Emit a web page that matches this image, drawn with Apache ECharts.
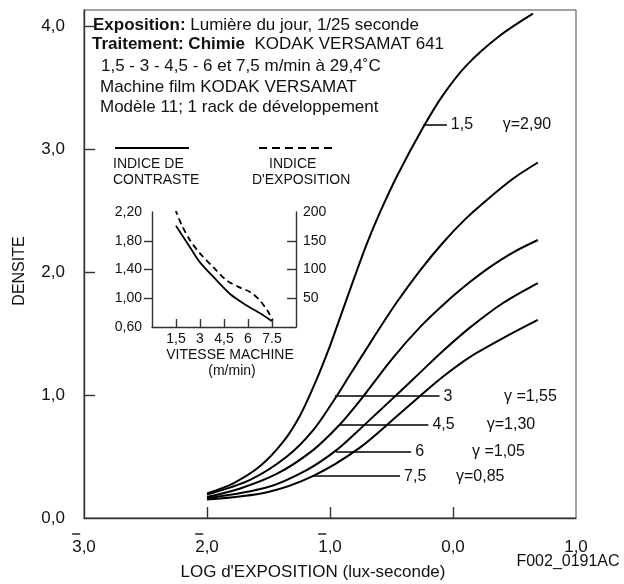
<!DOCTYPE html>
<html>
<head>
<meta charset="utf-8">
<script src="https://cdn.jsdelivr.net/npm/echarts@6/dist/echarts.min.js"></script>
<style>
html, body { margin: 0; padding: 0; background: #fff; }
#chart { width: 624px; height: 584px; }
</style>
</head>
<body>
<div id="chart"></div>
<script>
// Courbes caractéristiques : densité en fonction du log d'exposition,
// une courbe par vitesse machine (m/min)
var logE15 = [-2.00, -1.79, -1.57, -1.38, -1.24, -1.12, -1.00, -0.90, -0.80, -0.70, -0.60, -0.45, -0.24, -0.08, 0.11, 0.38, 0.65];
var dens15 = [0.20, 0.28, 0.42, 0.62, 0.84, 1.10, 1.40, 1.68, 1.96, 2.23, 2.47, 2.79, 3.18, 3.44, 3.68, 3.92, 4.10];
var logE3 = [-2.00, -1.65, -1.35, -1.14, -0.96, -0.84, -0.65, -0.46, -0.27, -0.08, 0.10, 0.28, 0.49, 0.69];
var dens3 = [0.19, 0.31, 0.50, 0.71, 0.97, 1.16, 1.46, 1.75, 2.01, 2.24, 2.43, 2.59, 2.76, 2.89];
var logE45 = [-2.00, -1.73, -1.43, -1.14, -0.92, -0.76, -0.49, -0.27, -0.05, 0.14, 0.30, 0.49, 0.69];
var dens45 = [0.17, 0.24, 0.36, 0.55, 0.76, 0.95, 1.30, 1.55, 1.76, 1.92, 2.04, 2.16, 2.26];
var logE6 = [-2.00, -1.51, -1.19, -0.95, -0.76, -0.61, -0.46, -0.27, -0.08, 0.14, 0.41, 0.69];
var dens6 = [0.16, 0.25, 0.39, 0.55, 0.72, 0.86, 1.00, 1.18, 1.36, 1.55, 1.75, 1.91];
var logE75 = [-2.00, -1.51, -1.14, -0.76, -0.42, -0.27, -0.08, 0.14, 0.44, 0.69];
var dens75 = [0.15, 0.21, 0.34, 0.57, 0.86, 0.99, 1.15, 1.31, 1.48, 1.61];

var speeds = ['1,5', '3', '4,5', '6', '7,5'];
var gammas = ['γ=2,90', 'γ =1,55', 'γ=1,30', 'γ =1,05', 'γ=0,85'];
// traits de repère (densité, début / fin en log E) et position du gamma
var leaderY = [3.20, 0.99, 0.76, 0.54, 0.34];
var leaderX0 = [-0.24, -0.96, -0.92, -0.95, -1.14];
var leaderX1 = [-0.05, -0.11, -0.20, -0.34, -0.43];
var gammaX = [0.40, 0.41, 0.27, 0.15, 0.02];

var xTicksMain = [-3, -2, -1, 0, 1];
var yTicksMain = [0, 1, 2, 3, 4];

// Encart : indices en fonction de la vitesse machine
var vitesseC = [1.5, 2.375, 3, 4.04, 4.875, 5.92, 6.75, 7.5];
var contraste = [2.01, 1.71, 1.50, 1.25, 1.06, 0.90, 0.79, 0.68];
var vitesseE = [1.45, 1.86, 2.375, 3, 3.83, 4.67, 5.5, 6.125, 6.75, 7.27, 7.54];
var exposition = [205, 177, 151, 128, 104, 81, 68.5, 61, 46, 26, 12];
var vitesseTicks = [1.5, 3, 4.5, 6, 7.5];
var vitesseLabels = ['1,5', '3', '4,5', '6', '7.5'];
var contrasteTicks = [0.6, 1.0, 1.4, 1.8, 2.2];
var expoTicks = [50, 100, 150, 200];

var FONT = '"Liberation Sans", Arial, Helvetica, sans-serif';
var INK = '#111';
var AXIS = '#333';

function zip(a, b) {
	var out = [];
	for (var i = 0; i < a.length; i++) out.push([a[i], b[i]]);
	return out;
}

function txt(x, y, s, size, align, extra) {
	var st = {
		text: s, x: 0, y: 0, fill: INK, font: size + 'px ' + FONT,
		align: align || 'left', verticalAlign: 'middle'
	};
	if (extra) for (var k in extra) st[k] = extra[k];
	return { type: 'text', x: x, y: y, style: st, silent: true };
}

var chart = echarts.init(document.getElementById('chart'), null, { renderer: 'canvas' });

var curves = [[logE15, dens15], [logE3, dens3], [logE45, dens45], [logE6, dens6], [logE75, dens75]];
var series = curves.map(function (c, i) {
	return {
		type: 'line', xAxisIndex: 0, yAxisIndex: 0,
		data: zip(c[0], c[1]),
		showSymbol: false, smooth: 0.3,
		lineStyle: { color: '#000', width: 2 },
		silent: true,
		markLine: {
			silent: true, symbol: ['none', 'none'], animation: false,
			lineStyle: { color: '#000', width: 1.5, type: 'solid' },
			label: {
				show: true, position: 'end', distance: 4, formatter: speeds[i],
				fontSize: 16, fontFamily: FONT, color: INK
			},
			data: [[{ coord: [leaderX0[i], leaderY[i]] }, { coord: [leaderX1[i], leaderY[i]] }]]
		},
		markPoint: {
			silent: true, symbol: 'circle', symbolSize: 1, animation: false,
			itemStyle: { color: 'rgba(0,0,0,0)' },
			label: {
				show: true, position: 'right', distance: 0, formatter: gammas[i],
				fontSize: 16, fontFamily: FONT, color: INK
			},
			data: [{ coord: [gammaX[i], leaderY[i]] }]
		}
	};
});

series.push({
	type: 'line', xAxisIndex: 1, yAxisIndex: 1,
	data: zip(vitesseC, contraste),
	showSymbol: false, smooth: 0.3, silent: true,
	lineStyle: { color: '#000', width: 1.8 }
});
series.push({
	type: 'line', xAxisIndex: 1, yAxisIndex: 2,
	data: zip(vitesseE, exposition),
	showSymbol: false, smooth: 0.3, silent: true,
	lineStyle: { color: '#000', width: 1.8, type: [6, 4] }
});

var option = {
	animation: false,
	backgroundColor: '#fff',
	textStyle: { fontFamily: FONT },
	grid: [
		{ left: 84, top: 10, width: 492, height: 508, show: true, borderColor: '#444', borderWidth: 1 },
		{ left: 152, top: 212, width: 144, height: 115 }
	],
	xAxis: [
		{
			gridIndex: 0, type: 'value', min: -3, max: 1, interval: 1,
			splitLine: { show: false },
			axisLine: { onZero: false, lineStyle: { color: AXIS, width: 1.4 } },
			axisTick: { inside: true, length: 11, customValues: [-2, -1, 0], lineStyle: { color: AXIS, width: 1.4 } },
			axisLabel: {
				customValues: xTicksMain, margin: 12, color: INK,
				formatter: function (v) {
					var n = Math.abs(Math.round(v)) + ',0';
					return (v < 0 ? '{bar| }' : '{sp| }') + '\n{n|' + n + '}';
				},
				rich: {
					bar: { width: 8, height: 1.5, lineHeight: 8, fontSize: 4, backgroundColor: '#222', align: 'left' },
					sp: { lineHeight: 8, fontSize: 4 },
					n: { fontSize: 17, lineHeight: 18, fontFamily: FONT, color: INK }
				}
			}
		},
		{
			gridIndex: 1, type: 'value', min: 0, max: 9, interval: 1.5,
			splitLine: { show: false },
			axisLine: { onZero: false, lineStyle: { color: AXIS, width: 1.4 } },
			axisTick: { inside: true, length: 8, customValues: vitesseTicks, lineStyle: { color: AXIS, width: 1.4 } },
			axisLabel: {
				customValues: vitesseTicks, margin: 5, fontSize: 14, color: INK,
				formatter: function (v) {
					var i = vitesseTicks.indexOf(v);
					return i < 0 ? '' : vitesseLabels[i];
				}
			}
		}
	],
	yAxis: [
		{
			gridIndex: 0, type: 'value', min: 0, max: 4.13, interval: 1,
			splitLine: { show: false },
			axisLine: { show: true, onZero: false, lineStyle: { color: AXIS, width: 1.4 } },
			axisTick: { show: true, inside: true, length: 11, customValues: [1, 2, 3, 4], lineStyle: { color: AXIS, width: 1.4 } },
			axisLabel: {
				customValues: yTicksMain, margin: 19, fontSize: 17, color: INK,
				formatter: function (v) { return v.toFixed(1).replace('.', ','); }
			}
		},
		{
			gridIndex: 1, type: 'value', position: 'left', min: 0.6, max: 2.2, interval: 0.4,
			splitLine: { show: false },
			axisLine: { show: true, onZero: false, lineStyle: { color: AXIS, width: 1.4 } },
			axisTick: { show: true, length: 8, customValues: [1.0, 1.4, 1.8], lineStyle: { color: AXIS, width: 1.4 } },
			axisLabel: {
				customValues: contrasteTicks, margin: 10, fontSize: 14, color: INK,
				formatter: function (v) { return v.toFixed(2).replace('.', ','); }
			}
		},
		{
			gridIndex: 1, type: 'value', position: 'right', min: 0, max: 200, interval: 50,
			splitLine: { show: false },
			axisLine: { show: true, onZero: false, lineStyle: { color: AXIS, width: 1.4 } },
			axisTick: { show: true, inside: true, length: 9, customValues: [50, 100, 150], lineStyle: { color: AXIS, width: 1.4 } },
			axisLabel: {
				customValues: expoTicks, margin: 7, fontSize: 14, color: INK,
				formatter: function (v) { return String(Math.round(v)); }
			}
		}
	],
	graphic: [
		// bloc de conditions
		txt(93, 25, '{b|Exposition:} Lumière du jour, 1/25 seconde', 17, 'left', {
			rich: { b: { fontWeight: 'bold', fontSize: 17, fontFamily: FONT, fill: INK } }
		}),
		txt(92, 44, '{b|Traitement: Chimie}  KODAK VERSAMAT 641', 17, 'left', {
			rich: { b: { fontWeight: 'bold', fontSize: 17, fontFamily: FONT, fill: INK } }
		}),
		txt(101, 66, '1,5 - 3 - 4,5 - 6 et 7,5 m/min à 29,4˚C', 17),
		txt(100, 87, 'Machine film KODAK VERSAMAT', 17),
		txt(100, 107, 'Modèle 11; 1 rack de développement', 17),
		// légende de l'encart
		{ type: 'line', silent: true, shape: { x1: 115, y1: 148, x2: 189, y2: 148 }, style: { stroke: '#000', lineWidth: 1.8 } },
		{ type: 'line', silent: true, shape: { x1: 259, y1: 148, x2: 333, y2: 148 }, style: { stroke: '#000', lineWidth: 1.8, lineDash: [8, 5] } },
		txt(113, 164, 'INDICE DE', 14),
		txt(113, 180, 'CONTRASTE', 14),
		txt(269, 164, 'INDICE', 14),
		txt(252, 180, "D'EXPOSITION", 14),
		txt(230, 355, 'VITESSE MACHINE', 14, 'center'),
		txt(232, 371, '(m/min)', 14, 'center'),
		// titres des axes
		txt(313, 572, "LOG d'EXPOSITION (lux-seconde)", 17, 'center'),
		{ type: 'text', x: 20, y: 271, rotation: Math.PI / 2, silent: true,
		  style: { text: 'DENSITE', fill: INK, font: '16px ' + FONT, align: 'center', verticalAlign: 'middle' } },
		txt(568, 562, 'F002_0191AC', 16, 'center')
	],
	series: series
};

chart.setOption(option);
</script>
</body>
</html>
